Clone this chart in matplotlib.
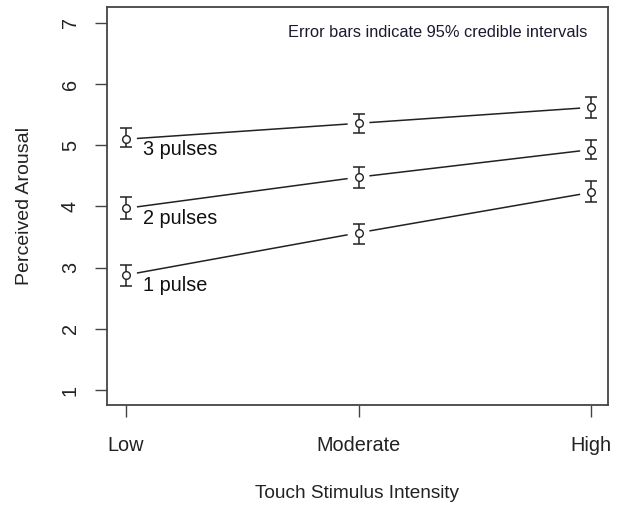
import matplotlib
matplotlib.use('Agg')
import matplotlib.pyplot as plt
import numpy as np

plt.rcParams['font.family'] = ['Liberation Sans', 'DejaVu Sans']

levels = ['Low', 'Moderate', 'High']
groups = ['1 pulse', '2 pulses', '3 pulses']
means = {
    '1 pulse': [2.88, 3.57, 4.23],
    '2 pulses': [3.97, 4.48, 4.93],
    '3 pulses': [5.10, 5.36, 5.62],
}
lower = {
    '1 pulse': [2.70, 3.39, 4.08],
    '2 pulses': [3.80, 4.31, 4.77],
    '3 pulses': [4.97, 5.20, 5.44],
}
upper = {
    '1 pulse': [3.05, 3.72, 4.41],
    '2 pulses': [4.15, 4.64, 5.08],
    '3 pulses': [5.28, 5.52, 5.79],
}

fig = plt.figure(figsize=(6.18, 5.05), dpi=100)
ax = fig.add_axes([0.1731, 0.198, 0.8107, 0.788])

x = np.arange(1, len(levels) + 1)
gap = 0.05
col = '#222222'

for g in groups:
    m = np.array(means[g])
    lo = np.array(lower[g])
    hi = np.array(upper[g])
    # segments with gaps around the points, like R type="b"
    for i in range(len(x) - 1):
        t = np.array([gap, 1 - gap])
        xs = x[i] + t * (x[i + 1] - x[i])
        ys = m[i] + t * (m[i + 1] - m[i])
        ax.plot(xs, ys, color=col, lw=1.1)
    ax.errorbar(x, m, yerr=[m - lo, hi - m], fmt='none', ecolor=col,
                elinewidth=1.1, capsize=4.5, capthick=1.1)
    ax.plot(x, m, 'o', mfc='white', mec=col, ms=5.5, mew=1.0)
    ax.annotate(g, (x[0], m[0]), xytext=(12, -7.5), textcoords='offset points',
                ha='left', va='center', fontsize=14.3, color='#111111')

ax.text(0.66, 0.935, 'Error bars indicate 95% credible intervals',
        transform=ax.transAxes, ha='center', va='center', fontsize=11.8,
        color='#1a1a2e')

ax.set_xlim(0.918, 3.073)
ax.set_ylim(0.755, 7.26)
ax.set_xticks(x)
ax.set_xticklabels(levels)
ax.set_yticks(range(1, 8))
ax.set_yticklabels([str(v) for v in range(1, 8)], rotation=90, va='center')
ax.tick_params(axis='both', length=8.5, width=1.0, color='#444444',
               labelsize=14.3, labelcolor='#222222')
ax.tick_params(axis='y', pad=11)
ax.tick_params(axis='x', pad=14)
for s in ax.spines.values():
    s.set_color('#444444')
    s.set_linewidth(1.3)

fig.text(25 / 618, 1 - 206 / 505, 'Perceived Arousal', rotation=90,
         ha='center', va='center', fontsize=14, color='#222222')
fig.text(357 / 618, 1 - 493 / 505, 'Touch Stimulus Intensity',
         ha='center', va='center', fontsize=13.7, color='#222222')

fig.savefig('out.png', dpi=100)
